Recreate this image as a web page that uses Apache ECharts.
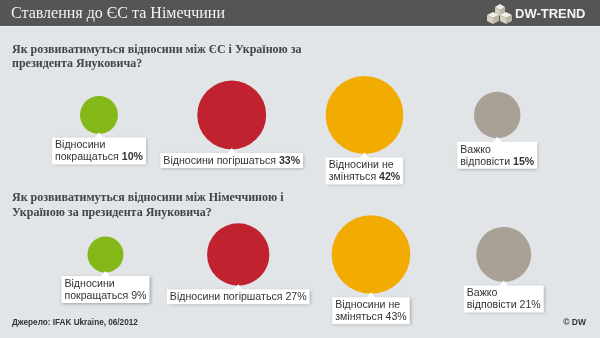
<!DOCTYPE html>
<html>
<head>
<meta charset="utf-8">
<script src="https://cdn.jsdelivr.net/npm/echarts@6/dist/echarts.min.js"></script>
<style>
  html, body { margin: 0; padding: 0; background: #e1e5e8; }
  #chart { width: 600px; height: 338px; }
</style>
</head>
<body>
<div id="chart"></div>
<script>
// Survey answers (shared by both questions)
const answers = ['Відносини\nпокращаться', 'Відносини погіршаться', 'Відносини не\nзміняться', 'Важко\nвідповісти'];
const answerColors = ['#84b819', '#c1222f', '#f2ab00', '#aaa196'];

// Question 1: relations EU – Ukraine, percent
const euValues = [10, 33, 42, 15];
// Question 2: relations Germany – Ukraine, percent
const deValues = [9, 27, 43, 21];

const headerTitle = 'Ставлення до ЄС та Німеччини';
const question1 = 'Як розвиватимуться відносини між ЄС і Україною за\nпрезидента Януковича?';
const question2 = 'Як розвиватимуться відносини між Німеччиною і\nУкраїною за президента Януковича?';
const sourceText = 'Джерело: IFAK Ukraine, 06/2012';
const creditText = '© DW';
const brandText = 'DW-TREND';

const SANS = 'Arial, "Liberation Sans", Helvetica, sans-serif';
const SERIF = 'Georgia, "Liberation Serif", "DejaVu Serif", serif';

// bubble area proportional to the share
const bubbleSize = v => 12 * Math.sqrt(v);

const labelText = {
  color: '#333', fontFamily: SANS, fontSize: 10.6, lineHeight: 12, align: 'left'
};

function bubbleSeries(values, axisIndex, boldPct) {
  return {
    type: 'scatter',
    xAxisIndex: axisIndex,
    yAxisIndex: axisIndex,
    z: 2,
    symbol: 'circle',
    symbolSize: d => bubbleSize(d[2]),
    data: values.map((v, i) => ({
      value: [i, 0, v],
      itemStyle: { color: answerColors[i], opacity: 1 }
    })),
    label: {
      show: true,
      position: 'bottom',
      distance: 3.5,
      // box centred under the bubble, lines left-aligned inside it
      formatter: p => answers[p.dataIndex].split('\n')
        .map((line, k, arr) => '{t|' + line + (k === arr.length - 1 ? ' ' : '') + '}')
        .join('\n') + '{p|' + p.value[2] + '%}',
      color: '#333',
      fontFamily: SANS,
      fontSize: 10.6,
      lineHeight: 12,
      backgroundColor: '#ffffff',
      padding: [2, 3, 1, 3],
      shadowColor: 'rgba(0,0,0,0.28)',
      shadowBlur: 3,
      shadowOffsetX: 1,
      shadowOffsetY: 1,
      rich: {
        t: labelText,
        p: Object.assign({}, labelText, { fontWeight: boldPct ? 'bold' : 'normal' })
      }
    },
    emphasis: { disabled: true }
  };
}

// small callout pointers joining each label box to its bubble
function pointerSeries(values, axisIndex) {
  return {
    type: 'scatter',
    xAxisIndex: axisIndex,
    yAxisIndex: axisIndex,
    z: 3,
    silent: true,
    symbol: 'triangle',
    symbolSize: [10, 6],
    data: values.map((v, i) => ({
      value: [i, 0, v],
      symbolOffset: [0, bubbleSize(v) / 2 + 1.5]
    })),
    itemStyle: { color: '#ffffff', opacity: 1 },
    emphasis: { disabled: true }
  };
}

const hiddenCat = idx => ({
  type: 'category', gridIndex: idx, data: answers, show: false, boundaryGap: true
});
const hiddenVal = idx => ({
  type: 'value', gridIndex: idx, min: -1, max: 1, show: false
});

const chart = echarts.init(document.getElementById('chart'), null, { renderer: 'canvas' });

chart.setOption({
  backgroundColor: '#e1e5e8',
  animation: false,
  grid: [
    { left: 32.6, width: 531, top: 105, height: 20 },
    { left: 39.1, width: 531, top: 244.5, height: 20 }
  ],
  xAxis: [hiddenCat(0), hiddenCat(1)],
  yAxis: [hiddenVal(0), hiddenVal(1)],
  title: [
    {
      text: headerTitle, left: 11, top: 5.5, padding: 0,
      textStyle: { color: '#f4f4f4', fontFamily: SERIF, fontSize: 16, fontWeight: 'normal' }
    },
    {
      text: question1, left: 12, top: 42.5, padding: 0,
      textStyle: { color: '#444', fontFamily: SERIF, fontSize: 12, fontWeight: 'bold', lineHeight: 14.5 }
    },
    {
      text: question2, left: 12, top: 191, padding: 0,
      textStyle: { color: '#444', fontFamily: SERIF, fontSize: 12, fontWeight: 'bold', lineHeight: 14.5 }
    },
    {
      text: sourceText, left: 12, top: 318.5, padding: 0,
      textStyle: { color: '#333', fontFamily: SANS, fontSize: 8.2, fontWeight: 'bold' }
    },
    {
      text: creditText, right: 14, top: 318.5, padding: 0,
      textStyle: { color: '#333', fontFamily: SANS, fontSize: 8.5, fontWeight: 'bold' }
    }
  ],
  graphic: [
    { type: 'rect', shape: { x: 0, y: 0, width: 600, height: 26 }, style: { fill: '#555555' }, z: -1 },
    { type: 'rect', shape: { x: 0, y: 26, width: 600, height: 1 }, style: { fill: '#f0f2f3' }, z: -1 },
    // stacked-cubes brand icon
    {
      type: 'group', x: 487, y: 4,
      children: [
        { type: 'polygon', shape: { points: [[8, 3], [13, 0], [18, 3], [13, 6]] }, style: { fill: '#f1ede4' } },
        { type: 'polygon', shape: { points: [[8, 3], [13, 6], [13, 12], [8, 9]] }, style: { fill: '#d6d0c3' } },
        { type: 'polygon', shape: { points: [[13, 6], [18, 3], [18, 9], [13, 12]] }, style: { fill: '#bfb8a9' } },
        { type: 'polygon', shape: { points: [[0, 11], [6, 8], [12, 11], [6, 14]] }, style: { fill: '#f1ede4' } },
        { type: 'polygon', shape: { points: [[0, 11], [6, 14], [6, 20], [0, 17]] }, style: { fill: '#d6d0c3' } },
        { type: 'polygon', shape: { points: [[6, 14], [12, 11], [12, 17], [6, 20]] }, style: { fill: '#bfb8a9' } },
        { type: 'polygon', shape: { points: [[13, 11], [19, 8], [25, 11], [19, 14]] }, style: { fill: '#f1ede4' } },
        { type: 'polygon', shape: { points: [[13, 11], [19, 14], [19, 20], [13, 17]] }, style: { fill: '#d6d0c3' } },
        { type: 'polygon', shape: { points: [[19, 14], [25, 11], [25, 17], [19, 20]] }, style: { fill: '#bfb8a9' } }
      ]
    },
    {
      type: 'text', x: 515, y: 14,
      style: {
        text: brandText, fill: '#f4f4f4', fontFamily: SANS, fontSize: 13, fontWeight: 'bold',
        verticalAlign: 'middle'
      }
    }
  ],
  series: [
    bubbleSeries(euValues, 0, true),
    pointerSeries(euValues, 0),
    bubbleSeries(deValues, 1, false),
    pointerSeries(deValues, 1)
  ]
});
</script>
</body>
</html>
